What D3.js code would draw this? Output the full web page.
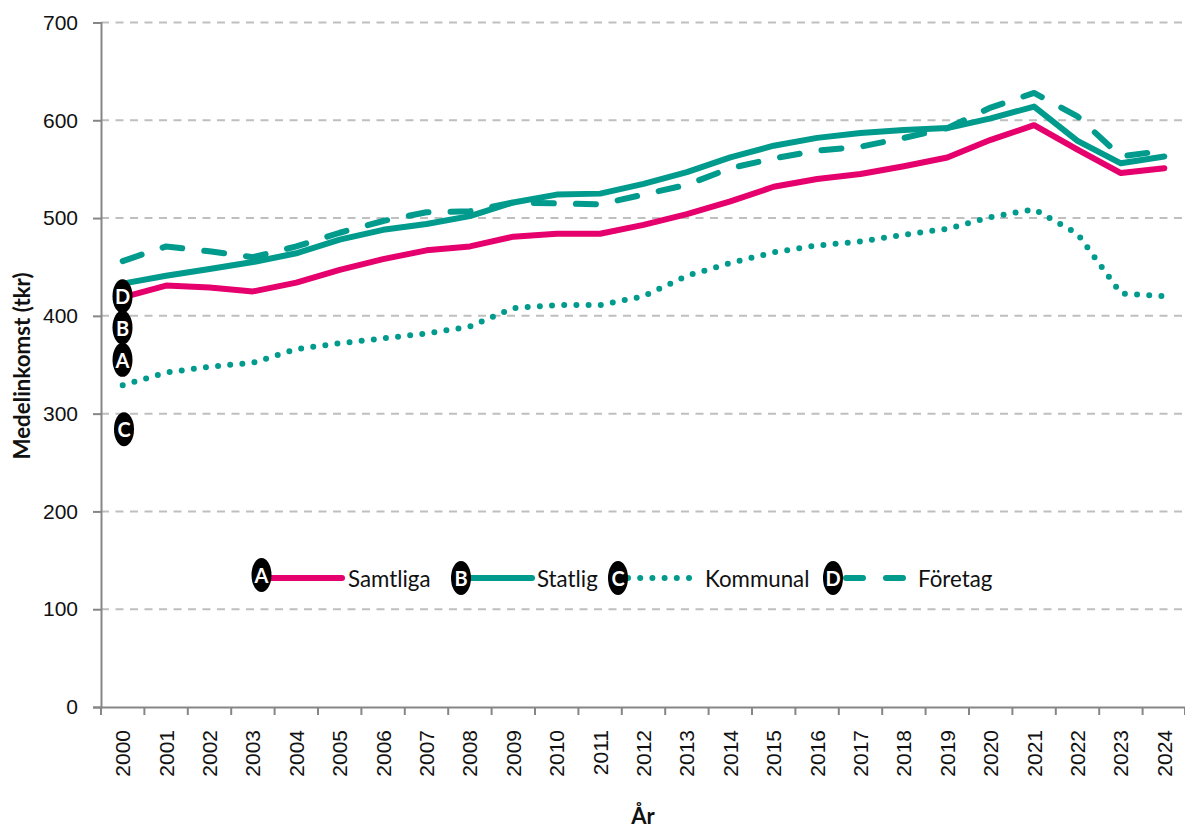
<!DOCTYPE html>
<html><head><meta charset="utf-8">
<script src="https://cdn.jsdelivr.net/npm/d3@7/dist/d3.min.js"></script>
<style>html,body{margin:0;padding:0;background:#fff}svg{display:block}</style>
</head><body><svg id="c" width="1185" height="827"></svg>
<script>
const years=["2000","2001","2002","2003","2004","2005","2006","2007","2008","2009","2010","2011","2012","2013","2014","2015","2016","2017","2018","2019","2020","2021","2022","2023","2024"];
const samtliga=[419,431,429,425,434,447,458,467,471,481,484,484,493,504,517,532,540,545,553,562,580,595,570,546,551];
const statlig=[433,441,448,455,464,478,488,494,502,516,524,525,535,547,562,574,582,587,590,592,602,614,579,556,563];
const kommunal=[329,342,348,352,366,372,377,382,389,408,411,411,420,441,454,465,472,476,483,489,501,509,484,423,420];
const foretag=[456,471,466,460,471,485,497,506,507,516,515,514,524,534,551,561,569,573,582,592,613,628,604,563,569];
const yTicks=[0,100,200,300,400,500,600,700];
const badgeValues={A:355,B:388,C:284,D:420};
const PINK="#e6006e",TEAL="#009b8d",AX="#868686",GRID="#bfbfbf";
const svg=d3.select("#c");
const x=d3.scaleBand().domain(years).range([101,1186]);
const y=d3.scaleLinear().domain([0,700]).range([707,22.5]);
const cx=d=>x(d)+x.bandwidth()/2;
const FN="Liberation Sans";
// grid
svg.append("g").selectAll("line").data(yTicks.slice(1)).join("line")
 .attr("x1",101).attr("x2",1185).attr("y1",d=>y(d)).attr("y2",d=>y(d))
 .attr("stroke",GRID).attr("stroke-width",2).attr("stroke-dasharray","8 6.5");
// axes
const gy=svg.append("g").attr("transform","translate(101,0)").call(d3.axisLeft(y).tickValues(yTicks).tickSize(8).tickPadding(15));
const gx=svg.append("g").attr("transform","translate(0,707)").call(d3.axisBottom(x).tickSize(0));
gy.select(".domain").attr("stroke",AX).attr("stroke-width",2);
gy.selectAll("line").attr("stroke",AX).attr("stroke-width",2);
gy.selectAll("text").attr("font-family",FN).attr("font-size",21).attr("fill","#111");
gx.select(".domain").attr("stroke",AX).attr("stroke-width",2);
gx.selectAll(".tick line").remove();
svg.append("g").selectAll("line").data(years.concat(["end"])).join("line")
 .attr("x1",(d,i)=>d==="end"?1185:x(d)).attr("x2",(d,i)=>d==="end"?1185:x(d)).attr("y1",707).attr("y2",715)
 .attr("stroke",AX).attr("stroke-width",2);
gx.selectAll("text").attr("font-family",FN).attr("font-size",21).attr("fill","#111")
 .attr("text-anchor","end").attr("dominant-baseline","central").attr("dy",0).attr("y",0)
 .attr("transform","translate(0,23) rotate(-90)").attr("x",-0);
// series
const line=d3.line().x((d,i)=>cx(years[i])).y(d=>y(d));
const series=[
 {k:"A",name:"Samtliga",v:samtliga,c:PINK,dash:null,w:6},
 {k:"B",name:"Statlig",v:statlig,c:TEAL,dash:null,w:6},
 {k:"C",name:"Kommunal",v:kommunal,c:TEAL,dash:"0 12.2",w:6},
 {k:"D",name:"Företag",v:foretag,c:TEAL,dash:"20 22.1",w:6}
];
svg.append("g").selectAll("path").data([series[3],series[2],series[0],series[1]]).join("path")
 .attr("d",d=>line(d.v)).attr("fill","none").attr("stroke",d=>d.c).attr("stroke-width",d=>d.w)
 .attr("stroke-linecap","round").attr("stroke-linejoin","round").attr("stroke-dasharray",d=>d.dash);
function badge(px,py,t){
 const g=svg.append("g").attr("transform",`translate(${px},${py})`);
 g.append("ellipse").attr("rx",10).attr("ry",17).attr("fill","#000");
 g.append("text").text(t).attr("text-anchor","middle").attr("dominant-baseline","central")
  .attr("font-family","Lato").attr("font-weight",700).attr("font-size",20).attr("fill","#fff");
}
const bx={A:122.5,B:122.5,C:124,D:122.5};
// legend
const leg=[{x1:271,x2:342,tx:348,b:261.5,by:575},{x1:471,x2:532,tx:537,b:461,by:578},{x1:628,x2:695,tx:705,b:618,by:578},{x1:846,x2:903,tx:918,b:833,by:578}];
series.forEach((s,i)=>{
 const l=leg[i];
 svg.append("line").attr("x1",l.x1).attr("x2",l.x2).attr("y1",578).attr("y2",578)
  .attr("stroke",s.c).attr("stroke-width",s.w).attr("stroke-linecap","round")
  .attr("stroke-dasharray",i===3?"17 23":s.dash);
 svg.append("text").text(s.name).attr("x",l.tx).attr("y",578).attr("dominant-baseline","central")
  .attr("font-family","Lato").attr("font-size",22.3).attr("fill","#111");
 badge(l.b,l.by,s.k);
});
["C","A","B","D"].forEach(k=>badge(bx[k],y(badgeValues[k]),k));
// titles
svg.append("text").text("Medelinkomst (tkr)").attr("transform","translate(21,366) rotate(-90)")
 .attr("text-anchor","middle").attr("dominant-baseline","central")
 .attr("font-family","Lato").attr("font-weight",700).attr("font-size",22.3).attr("fill","#111");
svg.append("text").text("År").attr("x",643).attr("y",815).attr("text-anchor","middle").attr("dominant-baseline","central")
 .attr("font-family","Lato").attr("font-weight",700).attr("font-size",22).attr("fill","#111");
</script></body></html>
